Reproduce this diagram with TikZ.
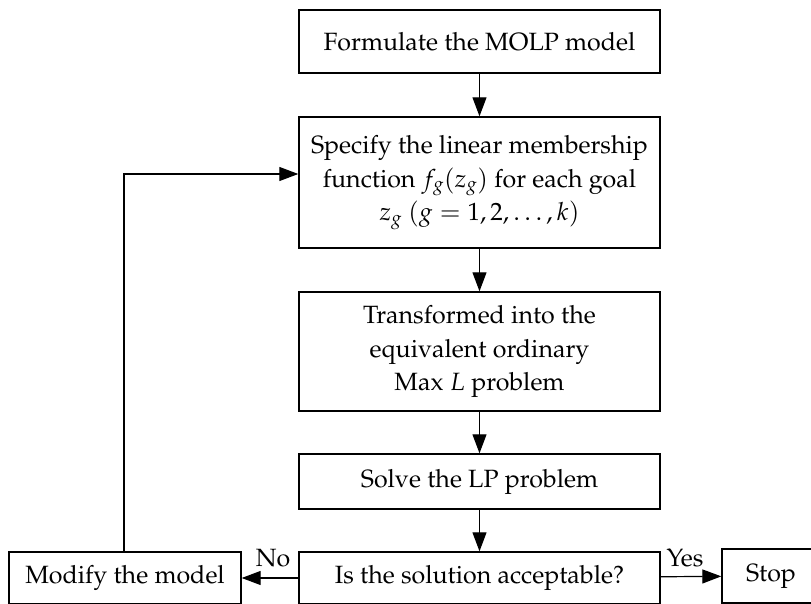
\documentclass[tikz,border=0pt]{standalone}
\usepackage[T1]{fontenc}
\usepackage{mathpazo}
\usetikzlibrary{arrows.meta}
\begin{document}
\begin{tikzpicture}[x=1pt,y=1pt,
  box/.style={draw,line width=1.4pt,rectangle,inner sep=0pt,align=center,
    font=\fontsize{25}{33.5}\selectfont},
  arr/.style={line width=1.2pt,-{Triangle[length=19pt,width=14pt]}},
  lbl/.style={font=\fontsize{25}{33.5}\selectfont,inner sep=0pt}]
\useasboundingbox (0,0) rectangle (811,603);
\node[box,minimum width=361pt,minimum height=63pt] (b1) at (479.5,561.5) {Formulate the MOLP model};
\node[box,minimum width=361pt,minimum height=131pt] (b2) at (479.5,420.5) {Specify the linear membership\\function $f_g(z_g)$ for each goal\\$z_g$ $(g=1,2,\ldots,k)$};
\node[box,minimum width=361pt,minimum height=119pt] (b3) at (479.5,251.5) {Transformed into the\\equivalent ordinary\\Max $L$ problem};
\node[box,minimum width=361pt,minimum height=55pt] (b4) at (479.5,121.5) {Solve the LP problem};
\node[box,minimum width=361pt,minimum height=52pt] (b5) at (479.5,25) {Is the solution acceptable?};
\node[box,minimum width=232pt,minimum height=52pt] (mod) at (125,25) {Modify the model};
\node[box,minimum width=98pt,minimum height=54pt] (stop) at (771,27) {Stop};
\coordinate (lp) at (124,429);
\draw[arr] (b1) -- (b2);
\draw[arr] (b2) -- (b3);
\draw[arr] (b3) -- (b4);
\draw[arr] (b4) -- (b5);
\draw[arr] (b5) -- (mod);
\draw[arr] (b5) -- (stop);
\draw[arr] (mod.north -| lp) -- (lp) -- (lp -| b2.west);
\node[lbl] (no) at (273,45) {No};
\node[lbl] (yes) at (685,45) {Yes};
\end{tikzpicture}
\end{document}
